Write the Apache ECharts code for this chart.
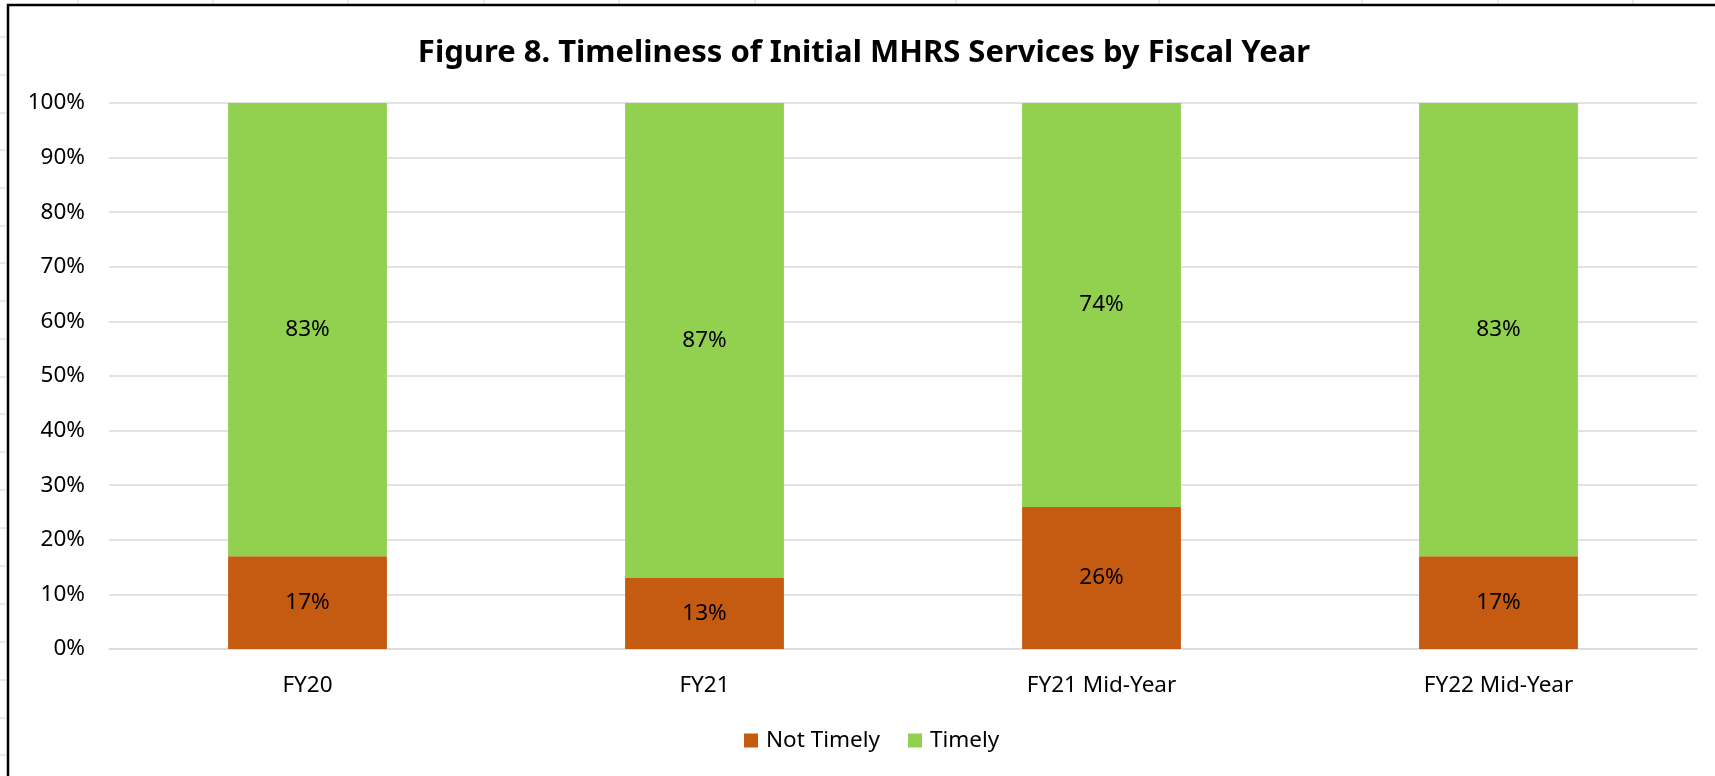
<!DOCTYPE html>
<html>
<head>
<meta charset="utf-8">
<title>Figure 8. Timeliness of Initial MHRS Services by Fiscal Year</title>
<script src="https://cdn.jsdelivr.net/npm/echarts@6/dist/echarts.min.js"></script>
<style>
  html, body { margin: 0; padding: 0; background: #ffffff; }
  #chart { width: 1715px; height: 776px; }
</style>
</head>
<body>
<div id="chart"></div>
<script>
// Fiscal-year categories and the share of initial MHRS services (percent)
const categories = ['FY20', 'FY21', 'FY21 Mid-Year', 'FY22 Mid-Year'];
const notTimely = [17, 13, 26, 17];
const timely = [83, 87, 74, 83];
const yTicks = { min: 0, max: 100, interval: 10 };

// Worksheet cell edges peeking around the chart frame
const sheetColumnEdges = [78, 213, 348, 484, 619, 755, 956, 1159, 1362, 1498, 1633];
const sheetRowEdges = [37, 75, 113, 150, 188, 226, 263, 301, 339, 377, 414, 452, 490, 528, 566, 604, 642, 680, 718, 755];

const FONT = 'Noto Sans';
const TEXT_SIZE = 22.5;

const sheetLines = [];
sheetColumnEdges.forEach(function (x) {
  sheetLines.push({
    type: 'line', silent: true, z: -1,
    shape: { x1: x, y1: 0, x2: x, y2: 5 },
    style: { stroke: '#d4d4d4', lineWidth: 1 }
  });
});
sheetRowEdges.forEach(function (y) {
  sheetLines.push({
    type: 'line', silent: true, z: -1,
    shape: { x1: 0, y1: y, x2: 6, y2: y },
    style: { stroke: '#d4d4d4', lineWidth: 1 }
  });
});

const chart = echarts.init(document.getElementById('chart'), null, { renderer: 'canvas' });

chart.setOption({
  backgroundColor: '#ffffff',
  animation: false,
  textStyle: { fontFamily: FONT, color: '#000000' },
  title: {
    text: 'Figure 8. Timeliness of Initial MHRS Services by Fiscal Year',
    left: 859,
    top: 33,
    textAlign: 'center',
    textStyle: { fontFamily: FONT, fontSize: 31, fontWeight: 'bold', color: '#000000' }
  },
  legend: {
    data: ['Not Timely', 'Timely'],
    left: 739,
    top: 724,
    itemWidth: 14,
    itemHeight: 14,
    itemGap: 28,
    icon: 'rect',
    textStyle: { fontFamily: FONT, fontSize: TEXT_SIZE, color: '#000000', padding: [0, 0, 0, 3] }
  },
  grid: { left: 109, right: 18, top: 103, bottom: 127, containLabel: false },
  xAxis: {
    type: 'category',
    data: categories,
    axisLine: { show: true, lineStyle: { color: '#d9d9d9', width: 1.5 } },
    axisTick: { show: false },
    axisLabel: { fontFamily: FONT, fontSize: TEXT_SIZE, color: '#000000', margin: 25 }
  },
  yAxis: {
    type: 'value',
    min: yTicks.min,
    max: yTicks.max,
    interval: yTicks.interval,
    axisLine: { show: false },
    axisTick: { show: false },
    axisLabel: { fontFamily: FONT, fontSize: TEXT_SIZE, color: '#000000', margin: 24, formatter: '{value}%' },
    splitLine: { show: true, lineStyle: { color: '#d9d9d9', width: 1.5 } }
  },
  series: [
    {
      name: 'Not Timely',
      type: 'bar',
      stack: 'share',
      data: notTimely,
      barWidth: '40%',
      itemStyle: { color: '#C55A11' },
      label: { show: true, position: 'inside', formatter: '{c}%', fontFamily: FONT, fontSize: TEXT_SIZE, color: '#000000' }
    },
    {
      name: 'Timely',
      type: 'bar',
      stack: 'share',
      data: timely,
      barWidth: '40%',
      itemStyle: { color: '#92D050' },
      label: { show: true, position: 'inside', formatter: '{c}%', fontFamily: FONT, fontSize: TEXT_SIZE, color: '#000000' }
    }
  ],
  graphic: sheetLines.concat([
    {
      type: 'rect', silent: true, z: 100,
      shape: { x: 8, y: 5, width: 1760, height: 820 },
      style: { fill: 'none', stroke: '#000000', lineWidth: 2.5 }
    }
  ])
});
</script>
</body>
</html>
